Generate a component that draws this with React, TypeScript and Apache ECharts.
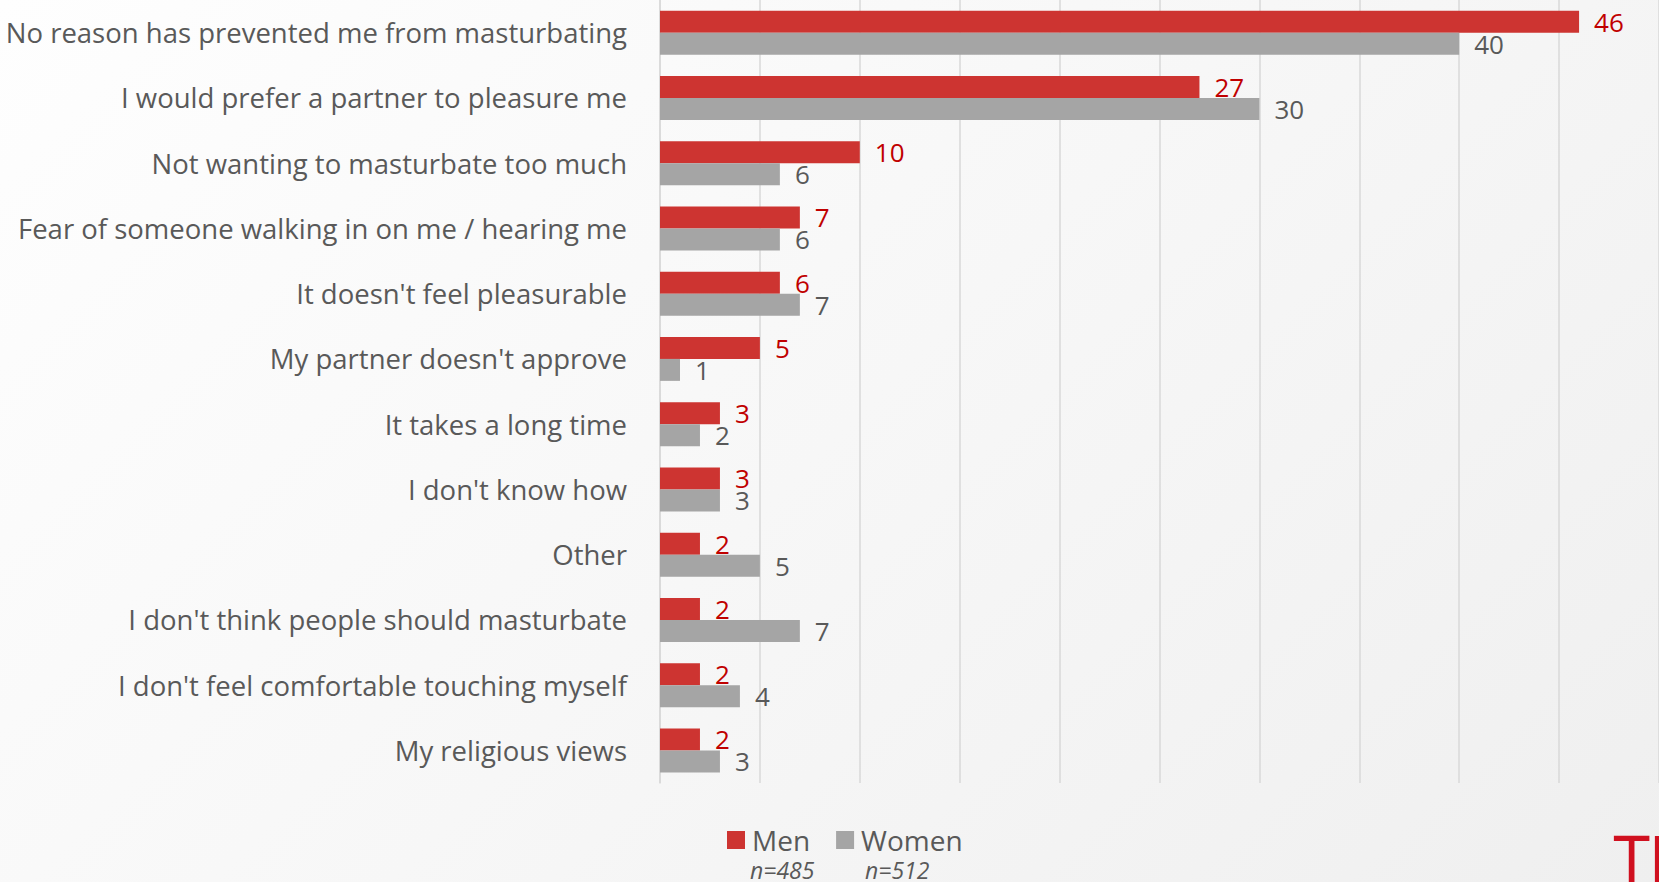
import React, { useEffect, useRef } from "react";
import * as echarts from "echarts";

const categories = [
  "No reason has prevented me from masturbating",
  "I would prefer a partner to pleasure me",
  "Not wanting to masturbate too much",
  "Fear of someone walking in on me / hearing me",
  "It doesn't feel pleasurable",
  "My partner doesn't approve",
  "It takes a long time",
  "I don't know how",
  "Other",
  "I don't think people should masturbate",
  "I don't feel comfortable touching myself",
  "My religious views",
];
const menValues = [46, 27, 10, 7, 6, 5, 3, 3, 2, 2, 2, 2];
const womenValues = [40, 30, 6, 6, 7, 1, 2, 3, 5, 7, 4, 3];
const seriesNames = ["Men", "Women"];
const sampleSizes = ["n=485", "n=512"];

const FONT = "'Open Sans', 'Noto Sans', sans-serif";

export default function App() {
  const ref = useRef<HTMLDivElement>(null);
  useEffect(() => {
    if (!ref.current) return;
    const chart = echarts.init(ref.current, null, { renderer: "svg" });
    chart.setOption({
      animation: false,
      backgroundColor: "transparent",
      textStyle: { fontFamily: FONT },
      grid: { left: 660, top: 0, width: 1000, height: 783, containLabel: false },
      xAxis: {
        type: "value",
        min: 0,
        max: 50,
        interval: 5,
        axisLabel: { show: false },
        axisLine: { show: false },
        axisTick: { show: false },
        splitLine: { show: true, lineStyle: { color: "#d9d9d9", width: 1.5 } },
      },
      yAxis: {
        type: "category",
        inverse: true,
        data: categories,
        axisLine: { show: true, lineStyle: { color: "#d9d9d9", width: 1.5 } },
        axisTick: { show: false },
        axisLabel: {
          margin: 33,
          color: "#595959",
          fontSize: 27.5,
          fontFamily: FONT,
        },
      },
      legend: {
        left: 722,
        top: 820,
        icon: "rect",
        itemWidth: 18,
        itemHeight: 18,
        itemGap: 26,
        textStyle: { color: "#595959", fontSize: 28, fontFamily: FONT, padding: [0, 0, 0, 2], lineHeight: 30 },
        data: seriesNames,
      },
      series: [
        {
          name: seriesNames[0],
          type: "bar",
          data: menValues,
          barWidth: 22,
          barGap: "0%",
          itemStyle: { color: "#cd3431" },
          label: {
            show: true,
            position: "right",
            distance: 15,
            color: "#c00000",
            fontSize: 26,
            fontFamily: FONT,
          },
        },
        {
          name: seriesNames[1],
          type: "bar",
          data: womenValues,
          barWidth: 22,
          barGap: "0%",
          itemStyle: { color: "#a5a5a5" },
          label: {
            show: true,
            position: "right",
            distance: 15,
            color: "#595959",
            fontSize: 26,
            fontFamily: FONT,
          },
        },
      ],
      graphic: [
        {
          type: "text",
          x: 750,
          y: 858,
          style: { text: sampleSizes[0], fill: "#595959", font: `italic 23px ${FONT}`, lineHeight: 24 },
        },
        {
          type: "text",
          x: 865,
          y: 858,
          style: { text: sampleSizes[1], fill: "#595959", font: `italic 23px ${FONT}`, lineHeight: 24 },
        },
        {
          type: "text",
          x: 1614,
          y: 829,
          style: {
            text: "TENGA",
            fill: "#d0101f",
            font: `64px 'Liberation Sans Narrow', 'DejaVu Sans Condensed', sans-serif`,
          },
        },
      ],
    });
    return () => chart.dispose();
  }, []);
  return (
    <div
      style={{
        position: "fixed",
        left: 0,
        top: 0,
        width: 1659,
        height: 882,
        overflow: "hidden",
        background: "linear-gradient(135deg, #fefefe 0%, #f7f7f7 50%, #efefef 100%)",
      }}
    >
      <div ref={ref} style={{ width: 1659, height: 882 }} />
    </div>
  );
}
